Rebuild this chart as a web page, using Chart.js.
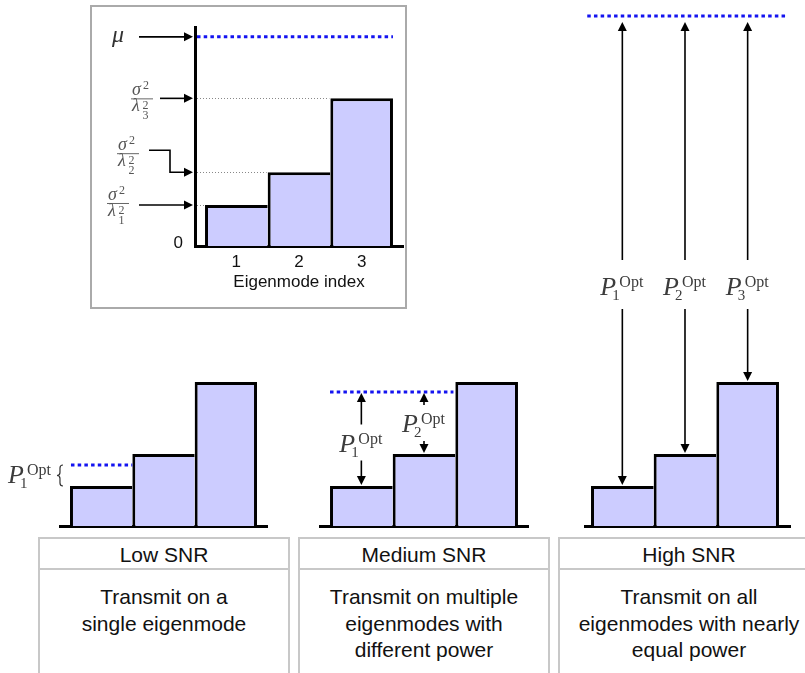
<!DOCTYPE html>
<html>
<head>
<meta charset="utf-8">
<script src="https://cdn.jsdelivr.net/npm/chart.js@4.4.1/dist/chart.umd.min.js"></script>
<style>
html,body{margin:0;padding:0;background:#fff;}
body{width:805px;height:673px;position:relative;overflow:hidden;font-family:"Liberation Sans",Arial,sans-serif;}
canvas{position:absolute;left:0;top:0;}
#insetFrame{position:absolute;left:90px;top:5px;width:313px;height:300px;border:2px solid #aaa;}
.snrBox{position:absolute;top:537px;height:160px;box-sizing:border-box;border:2px solid #c8c8c8;color:#111;font-size:21px;text-align:center;}
.snrHead{height:29px;line-height:31px;border-bottom:2px solid #c8c8c8;}
.snrBody{line-height:26.5px;padding-top:14px;}
</style>
</head>
<body>
<div id="insetFrame"></div>
<div id="boxes"></div>
<canvas id="cInset" width="805" height="673"></canvas>
<canvas id="cLow" width="805" height="673"></canvas>
<canvas id="cMedium" width="805" height="673"></canvas>
<canvas id="cHigh" width="805" height="673"></canvas>
<script>
// ---------------- data ----------------
const modeIndex = [1, 2, 3];                 // eigenmode index
const noiseOverGain = [2.0, 3.6, 7.2];       // sigma^2 / lambda_i^2 (floor heights)
const insetWaterLevel = 10.2;                // mu in the inset
const lowWaterLevel = 3.05;
const mediumWaterLevel = 6.7;
const highWaterLevel = 25.5;
const lowActiveModes = [1];
const mediumActiveModes = [1, 2];
const highActiveModes = [1, 2, 3];
const snrTitles = ['Low SNR', 'Medium SNR', 'High SNR'];
const snrNotes = [
  ['Transmit on a', 'single eigenmode'],
  ['Transmit on multiple', 'eigenmodes with', 'different power'],
  ['Transmit on all', 'eigenmodes with nearly', 'equal power']
];
const xAxisTitle = 'Eigenmode index';

// ---------------- bottom boxes ----------------
const boxGeom = [{left: 38, width: 252}, {left: 298, width: 252}, {left: 558, width: 262}];
const boxesEl = document.getElementById('boxes');
snrTitles.forEach((t, i) => {
  const b = document.createElement('div');
  b.className = 'snrBox';
  b.style.left = boxGeom[i].left + 'px';
  b.style.width = boxGeom[i].width + 'px';
  const h = document.createElement('div'); h.className = 'snrHead'; h.textContent = t;
  const body = document.createElement('div'); body.className = 'snrBody';
  snrNotes[i].forEach((s, k) => {
    if (k) body.appendChild(document.createElement('br'));
    body.appendChild(document.createTextNode(s));
  });
  b.appendChild(h); b.appendChild(body);
  boxesEl.appendChild(b);
});

// ---------------- drawing helpers ----------------
const SERIF = '"Liberation Serif", "DejaVu Serif", serif';
function seg(ctx, x1, y1, x2, y2) { ctx.beginPath(); ctx.moveTo(x1, y1); ctx.lineTo(x2, y2); ctx.stroke(); }
function head(ctx, x, y, dir) {
  const L = 9, W = 4.5;
  ctx.beginPath();
  if (dir === 'up') { ctx.moveTo(x, y); ctx.lineTo(x - W, y + L); ctx.lineTo(x + W, y + L); }
  else if (dir === 'down') { ctx.moveTo(x, y); ctx.lineTo(x - W, y - L); ctx.lineTo(x + W, y - L); }
  else { ctx.moveTo(x, y); ctx.lineTo(x - L, y - W); ctx.lineTo(x - L, y + W); }
  ctx.closePath(); ctx.fill();
}
function blueDots(ctx, x1, x2, y) {
  ctx.save(); ctx.strokeStyle = '#1414f0'; ctx.lineWidth = 3; ctx.setLineDash([3.5, 3.2]);
  seg(ctx, x1, y, x2, y); ctx.restore();
}
function pOpt(ctx, x0, base, idx) {
  ctx.save(); ctx.fillStyle = '#3c3c3c'; ctx.textAlign = 'left'; ctx.textBaseline = 'alphabetic';
  ctx.font = 'italic 26px ' + SERIF; ctx.fillText('P', x0, base);
  ctx.font = '16px ' + SERIF; ctx.fillText('Opt', x0 + 19, base - 8);
  ctx.font = '15px ' + SERIF; ctx.fillText(String(idx), x0 + 12, base + 5);
  ctx.restore();
}
function fraction(ctx, cx, ly, idx) {
  ctx.save(); ctx.fillStyle = '#555'; ctx.strokeStyle = '#666'; ctx.lineWidth = 1;
  ctx.textAlign = 'left'; ctx.textBaseline = 'alphabetic';
  seg(ctx, cx - 11, ly + 0.5, cx + 11, ly + 0.5);
  ctx.font = 'italic 18px ' + SERIF; ctx.fillText('\u03C3', cx - 10, ly - 3);
  ctx.font = '12px ' + SERIF; ctx.fillText('2', cx + 1, ly - 9);
  ctx.font = 'italic 18px ' + SERIF; ctx.fillText('\u03BB', cx - 10, ly + 13);
  ctx.font = '12px ' + SERIF; ctx.fillText('2', cx + 0.5, ly + 11); ctx.fillText(String(idx), cx + 0.5, ly + 21);
  ctx.restore();
}
function brace(ctx, x, y1, y2) {
  const m = (y1 + y2) / 2, w = 3;
  ctx.save(); ctx.strokeStyle = '#333'; ctx.lineWidth = 1.2;
  ctx.beginPath();
  ctx.moveTo(x + w, y1);
  ctx.quadraticCurveTo(x, y1, x, y1 + 3);
  ctx.lineTo(x, m - 3);
  ctx.quadraticCurveTo(x, m, x - w, m);
  ctx.quadraticCurveTo(x, m, x, m + 3);
  ctx.lineTo(x, y2 - 3);
  ctx.quadraticCurveTo(x, y2, x + w, y2);
  ctx.stroke(); ctx.restore();
}

// ---------------- annotation plugin ----------------
const waterfillPlugin = {
  id: 'waterfill',
  afterDatasetsDraw(chart, args, opts) {
    const ctx = chart.ctx, xs = chart.scales.x, ys = chart.scales.y, ca = chart.chartArea;
    const X = v => xs.getPixelForValue(v), Y = v => ys.getPixelForValue(v);
    ctx.save();
    ctx.strokeStyle = '#000'; ctx.fillStyle = '#000'; ctx.lineWidth = 1.6;
    if (opts.kind === 'inset') {
      ctx.save(); ctx.strokeStyle = '#888'; ctx.lineWidth = 1; ctx.setLineDash([1, 2]);
      noiseOverGain.forEach((v, i) => seg(ctx, ca.left + 2, Math.round(Y(v)) + 0.5, X(modeIndex[i] - 0.5) - 1, Math.round(Y(v)) + 0.5));
      ctx.restore();
      const yMu = Y(insetWaterLevel);
      blueDots(ctx, ca.left + 2, X(3.5), yMu);
      const tip = ca.left - 2;
      seg(ctx, ca.left - 56, yMu, tip - 8, yMu); head(ctx, tip, yMu, 'right');
      ctx.save(); ctx.fillStyle = '#333'; ctx.font = 'italic 24px ' + SERIF; ctx.textAlign = 'center';
      ctx.fillText('\u03BC', ca.left - 77, yMu + 5); ctx.restore();
      const y3 = Y(noiseOverGain[2]);
      seg(ctx, ca.left - 35, y3, tip - 8, y3); head(ctx, tip, y3, 'right');
      fraction(ctx, ca.left - 53, y3, 3);
      const y2 = Y(noiseOverGain[1]);
      ctx.beginPath(); ctx.moveTo(ca.left - 46, y2 - 22); ctx.lineTo(ca.left - 25, y2 - 22);
      ctx.lineTo(ca.left - 25, y2); ctx.lineTo(tip - 8, y2); ctx.stroke();
      head(ctx, tip, y2, 'right');
      fraction(ctx, ca.left - 67, y2 - 19, 2);
      const y1 = Y(noiseOverGain[0]);
      seg(ctx, ca.left - 56, y1, tip - 8, y1); head(ctx, tip, y1, 'right');
      fraction(ctx, ca.left - 77, y1 - 2, 1);
      ctx.save(); ctx.fillStyle = '#111'; ctx.font = '17px "Liberation Sans", Arial, sans-serif';
      ctx.textAlign = 'right'; ctx.textBaseline = 'middle'; ctx.fillText('0', ca.left - 12, ca.bottom - 3); ctx.restore();
    } else if (opts.kind === 'low') {
      const yW = Y(opts.level);
      blueDots(ctx, X(0.5) + 1, X(1.5), yW);
      const yTop = Y(noiseOverGain[0]);
      brace(ctx, X(0.5) - 10, yW, yTop);
      pOpt(ctx, X(0.5) - 62, (yW + yTop) / 2 + 7.5, 1);
    } else if (opts.kind === 'medium' || opts.kind === 'high') {
      const yW = Y(opts.level);
      blueDots(ctx, X(opts.lineFrom), X(opts.lineTo), yW);
      opts.active.forEach(m => {
        const i = modeIndex.indexOf(m);
        const x = X(m), yTop = Y(noiseOverGain[i]) - 1;
        const upTip = yW + opts.tipGap;
        const base = opts.labelLevel !== undefined ? Y(opts.labelLevel) : (yW + yTop) / 2 + opts.labelShift[i];
        const gTop = base - opts.gapAbove, gBot = base + opts.gapBelow;
        seg(ctx, x, upTip + 8, x, gTop); head(ctx, x, upTip, 'up');
        seg(ctx, x, gBot, x, yTop - 8); head(ctx, x, yTop, 'down');
        pOpt(ctx, x - 22, base, m);
      });
    }
    ctx.restore();
  }
};

// ---------------- chart factory ----------------
function makeChart(id, cfg) {
  const inset = cfg.wf.kind === 'inset';
  return new Chart(document.getElementById(id), {
    type: 'bar',
    data: {
      datasets: [{
        data: modeIndex.map((m, i) => ({x: m, y: noiseOverGain[i]})),
        backgroundColor: '#ccccff',
        borderColor: '#000',
        borderWidth: c => ({top: 3, left: 3, bottom: 0, right: c.dataIndex === modeIndex.length - 1 ? 3 : 0}),
        borderSkipped: false,
        inflateAmount: 0,
        barPercentage: 1,
        categoryPercentage: 1
      }]
    },
    options: {
      responsive: false, animation: false, events: [],
      layout: {padding: cfg.pad},
      plugins: {legend: {display: false}, tooltip: {enabled: false}, waterfill: cfg.wf},
      scales: {
        x: {
          type: 'linear', offset: false, min: cfg.xMin, max: cfg.xMax,
          afterBuildTicks: s => { s.ticks = modeIndex.map(v => ({value: v})); },
          afterFit: inset ? (s => { s.height = 47; }) : undefined,
          grid: {display: false, drawTicks: false},
          border: {display: true, color: '#000', width: 3},
          ticks: {display: inset, padding: 6, color: '#111', maxRotation: 0, autoSkip: false,
                  font: {family: '"Liberation Sans", Arial, sans-serif', size: 17}},
          title: {display: inset, text: xAxisTitle, color: '#111', padding: {top: 0, bottom: 0},
                  font: {family: '"Liberation Sans", Arial, sans-serif', size: 17}}
        },
        y: {
          min: 0, max: cfg.yMax, display: inset,
          grid: {display: false, drawTicks: false},
          ticks: {display: false},
          border: {display: inset, color: '#000', width: 3}
        }
      }
    },
    plugins: [waterfillPlugin]
  });
}

makeChart('cInset', {pad: {left: 195, right: 402, top: 27, bottom: 380}, xMin: 0.34, xMax: 3.66, yMax: 10.68,
  wf: {kind: 'inset'}});
makeChart('cLow', {pad: {left: 60, right: 538, top: 370, bottom: 147}, xMin: 0.34, xMax: 3.66, yMax: 7.8,
  wf: {kind: 'low', level: lowWaterLevel, active: lowActiveModes}});
makeChart('cMedium', {pad: {left: 320, right: 277, top: 370, bottom: 147}, xMin: 0.34, xMax: 3.66, yMax: 7.8,
  wf: {kind: 'medium', level: mediumWaterLevel, active: mediumActiveModes, lineFrom: 0.5, lineTo: 2.47,
       tipGap: 1, labelShift: [13, 9.5], gapAbove: 27, gapBelow: 9}});
makeChart('cHigh', {pad: {left: 585, right: 15, top: 6, bottom: 147}, xMin: 0.404, xMax: 3.676, yMax: 26,
  wf: {kind: 'high', level: highWaterLevel, active: highActiveModes, lineFrom: 0.44, lineTo: 3.61,
       tipGap: 6, labelLevel: 11.55, gapAbove: 35, gapBelow: 14}});
</script>
</body>
</html>
